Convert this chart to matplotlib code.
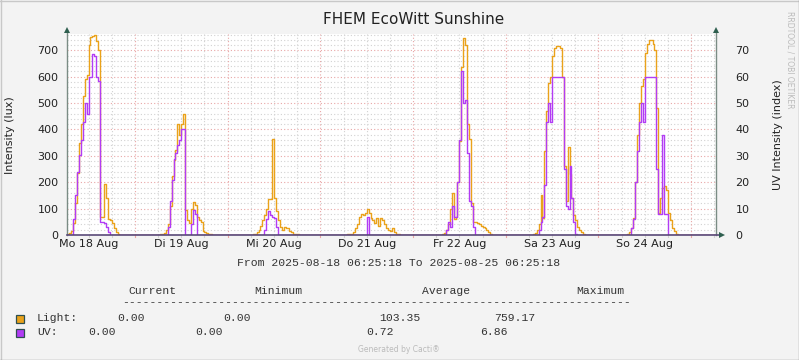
import matplotlib
matplotlib.use("Agg")
import matplotlib.pyplot as plt
import numpy as np
from matplotlib.lines import Line2D
from matplotlib.patches import Rectangle

# ---------------- data ----------------
title = "FHEM EcoWitt Sunshine"
day_labels = ["Mo 18 Aug", "Di 19 Aug", "Mi 20 Aug", "Do 21 Aug", "Fr 22 Aug", "Sa 23 Aug", "So 24 Aug"]
# sample hours of day (30 min resolution, daylight only; nights are 0)
hours = [6.5, 7.0, 7.5, 8.0, 8.5, 9.0, 9.5, 10.0, 10.5, 11.0, 11.5, 12.0, 12.5, 13.0, 13.5,
         14.0, 14.5, 15.0, 15.5, 16.0, 16.5, 17.0, 17.5, 18.0, 18.5, 19.0, 19.5, 20.0, 20.5]

light_d0 = [3, 8, 15, 45, 122, 236, 350, 420, 528, 590, 607, 720, 750, 755, 759.17,
            735, 700, 70, 70, 195, 140, 60, 55, 45, 25, 10, 3, 0, 0]
light_d1 = [2, 4, 8, 19, 40, 110, 222, 286, 324, 420, 380, 420, 458, 95, 57,
            45, 100, 127, 115, 70, 57, 50, 15, 10, 8, 5, 2, 0, 0]
light_d2 = [2, 3, 10, 20, 35, 55, 75, 100, 135, 138, 365, 140, 90, 55, 30,
            20, 30, 25, 28, 15, 10, 5, 3, 3, 0, 0, 0, 0, 0]
light_d3 = [0, 2, 3, 5, 10, 25, 40, 70, 80, 75, 85, 100, 85, 65, 55,
            45, 65, 35, 65, 55, 40, 25, 20, 15, 25, 10, 5, 2, 0]
light_d4 = [0, 0, 3, 8, 20, 40, 100, 160, 60, 70, 200, 356, 636, 745, 720,
            420, 363, 120, 50, 48, 45, 40, 35, 30, 25, 18, 10, 2, 0]
light_d5 = [0, 3, 8, 20, 40, 150, 65, 320, 470, 575, 600, 680, 710, 716, 716,
            710, 600, 260, 130, 335, 230, 140, 75, 55, 30, 18, 10, 3, 0]
light_d6 = [0, 0, 3, 10, 25, 65, 200, 380, 500, 566, 590, 690, 725, 740, 738,
            725, 700, 480, 85, 140, 180, 185, 170, 85, 55, 25, 15, 5, 0]

uv_d0 = [0, 0, 0, 0.6, 1.5, 2.4, 3.05, 3.6, 4.3, 5.0, 4.6, 6.0, 6.0, 6.86, 6.8,
         6.0, 5.85, 0.5, 0.5, 0.45, 0.3, 0.1, 0, 0, 0, 0, 0, 0, 0]
uv_d1 = [0, 0, 0, 0, 0.3, 1.3, 2.1, 2.9, 3.1, 3.4, 3.6, 4.0, 4.0, 0, 0,
         0, 0.4, 0.95, 0.8, 0, 0, 0, 0, 0, 0, 0, 0, 0, 0]
uv_d2 = [0, 0, 0, 0, 0, 0, 0.2, 0.6, 0.9, 0.75, 0.7, 0.65, 0.3, 0, 0,
         0, 0, 0, 0, 0, 0, 0, 0, 0, 0, 0, 0, 0, 0]
uv_d3 = [0, 0, 0, 0, 0, 0, 0, 0, 0, 0, 0, 0.7, 0, 0, 0,
         0, 0, 0, 0, 0, 0, 0, 0, 0, 0, 0, 0, 0, 0]
uv_d4 = [0, 0, 0, 0, 0.2, 0.5, 0.3, 1.1, 0.7, 0.7, 2.0, 3.6, 6.2, 5.0, 5.1,
         3.1, 1.3, 1.1, 0.3, 0, 0, 0, 0, 0, 0, 0, 0, 0, 0]
uv_d5 = [0, 0, 0, 0, 0.2, 0.5, 0.7, 1.9, 4.3, 5.0, 4.3, 6.0, 6.0, 6.0, 6.0,
         6.0, 6.0, 2.5, 1.1, 1.0, 2.6, 1.4, 0.5, 0.05, 0, 0, 0, 0, 0]
uv_d6 = [0, 0, 0, 0, 0.25, 0.6, 2.0, 3.2, 4.3, 5.0, 4.3, 6.0, 6.0, 6.0, 6.0,
         6.0, 6.0, 2.5, 0.8, 0.8, 3.8, 0.8, 0.8, 0, 0, 0, 0, 0, 0]

light_days = [light_d0, light_d1, light_d2, light_d3, light_d4, light_d5, light_d6]
uv_days = [uv_d0, uv_d1, uv_d2, uv_d3, uv_d4, uv_d5, uv_d6]

start_hour = 6 + 25 / 60 + 18 / 3600   # 2025-08-18 06:25:18
span_hours = 7 * 24

legend_stats = {
    "Light": ["0.00", "0.00", "103.35", "759.17"],
    "UV": ["0.00", "0.00", "0.72", "6.86"],
}

# ---------------- build series ----------------
t_list, l_list, u_list = [start_hour], [0.0], [0.0]
for d in range(7):
    for h, lv, uv in zip(hours, light_days[d], uv_days[d]):
        t_list.append(d * 24 + h)
        l_list.append(lv)
        u_list.append(uv)
    t_list.append(d * 24 + 21.0)
    l_list.append(0.0)
    u_list.append(0.0)
t_list.append(start_hour + span_hours)
l_list.append(0.0)
u_list.append(0.0)
t = np.array(t_list)
light = np.array(l_list)
uv_plot = np.array(u_list) * 100.0

# ---------------- figure ----------------
W, H = 799, 360
fig = plt.figure(figsize=(W / 100, H / 100), dpi=100, facecolor="#F3F3F3")

def fx(px):
    return px / W

def fy(py):
    return 1 - py / H

x0, x1, ytop, ybot = 67, 716, 34, 235
ax = fig.add_axes([fx(x0), fy(ybot), fx(x1) - fx(x0), fy(ytop) - fy(ybot)])
ax.set_facecolor("white")
ymax = 762
ax.set_xlim(start_hour, start_hour + span_hours)
ax.set_ylim(0, ymax)

for s in ax.spines.values():
    s.set_visible(False)

# grid
minor_col = "#D2D2D2"
major_col = "#E9A6A6"
for v in range(20, ymax, 20):
    if v % 100 == 0:
        continue
    ax.axhline(v, color=minor_col, lw=0.8, ls=(0, (1, 2)), zorder=1)
for v in range(100, ymax, 100):
    ax.axhline(v, color=major_col, lw=0.8, ls=(0, (1, 2)), zorder=1)
for hh in range(6, 24 * 8, 6):
    if start_hour < hh < start_hour + span_hours:
        if hh % 24 == 0:
            ax.axvline(hh, color=major_col, lw=0.8, ls=(0, (1, 2)), zorder=1)
        else:
            ax.axvline(hh, color=minor_col, lw=0.8, ls=(0, (1, 2)), zorder=1)

# ticks
ax.set_yticks(range(0, 800, 100))
ax.tick_params(axis="y", length=0, labelsize=8, pad=6, colors="#222222")
ax.set_xticks([d * 24 + 12 for d in range(7)])
ax.set_xticklabels(day_labels)
ax.tick_params(axis="x", length=0, labelsize=8, pad=3, colors="#222222")

# small x tick marks below axis
for hh in range(6, 24 * 8, 6):
    if start_hour < hh < start_hour + span_hours:
        c = major_col if hh % 24 == 0 else minor_col
        ax.plot([hh, hh], [0, -ymax * 0.012], color=c, lw=0.8, clip_on=False, zorder=1)

# data
light_col = "#EAA21A"
uv_col = "#B23CF5"
ax.step(t, light, where="post", color=light_col, lw=1.0, zorder=3)
ax.step(t, uv_plot, where="post", color=uv_col, lw=1.0, zorder=4)

# right axis
ax2 = ax.twinx()
ax2.set_ylim(0, ymax / 10)
ax2.set_yticks(range(0, 80, 10))
ax2.tick_params(axis="y", length=0, labelsize=8, pad=14, colors="#222222")
for s in ax2.spines.values():
    s.set_visible(False)

# axes lines with arrows
axis_col = "#7A8C84"
arrow_col = "#2F5F4F"
fig.add_artist(Line2D([fx(x0), fx(x0)], [fy(ybot), fy(30)], color=axis_col, lw=1.0))
fig.add_artist(Line2D([fx(x1), fx(x1)], [fy(ybot), fy(30)], color=axis_col, lw=1.0))
fig.add_artist(Line2D([fx(x0), fx(722)], [fy(ybot), fy(ybot)], color="#5A4A78", lw=1.2))
for (ax_, ay_, mk) in [(x0, 30, "^"), (x1, 30, "^"), (722, ybot, ">")]:
    fig.add_artist(Line2D([fx(ax_)], [fy(ay_)], marker=mk, markersize=5,
                          color=arrow_col, markeredgewidth=0))

# texts
fig.text(fx(414), fy(20), title, ha="center", va="center", fontsize=11, color="#222222")
fig.text(fx(10), fy(135), "Intensity (lux)", rotation=90, ha="center", va="center",
         fontsize=8, color="#222222")
fig.text(fx(778), fy(135), "UV Intensity (index)", rotation=90, ha="center", va="center",
         fontsize=8, color="#222222")
fig.text(fx(790), fy(60), "RRDTOOL / TOBI OETIKER", rotation=270, ha="center", va="center",
         fontsize=5.5, color="#BBBBBB")

mono = "Liberation Mono"
fs = 8.2
fig.text(fx(399), fy(263), "From 2025-08-18 06:25:18 To 2025-08-25 06:25:18",
         ha="center", va="center", fontsize=fs, family=mono, color="#333333")

hdr_x = [128, 254, 422, 576]
for x, s in zip(hdr_x, ["Current", "Minimum", "Average", "Maximum"]):
    fig.text(fx(x), fy(291), s, ha="left", va="center", fontsize=fs, family=mono, color="#333333")
fig.text(fx(122), fy(302), "-" * 74, ha="left", va="center", fontsize=fs, family=mono, color="#333333")

rows = [("Light", 318, light_col, [117, 223, 379, 494]),
        ("UV", 332, uv_col, [88, 195, 366, 480])]
for name, yy, col, xs in rows:
    fig.add_artist(Rectangle((fx(15.5), fy(yy + 4.5)), fx(8), 8 / H, facecolor=col,
                             edgecolor="#2F4F4F", lw=0.9))
    fig.text(fx(37), fy(yy), name + ":", ha="left", va="center", fontsize=fs, family=mono, color="#333333")
    for x, v in zip(xs, legend_stats[name]):
        fig.text(fx(x), fy(yy), v, ha="left", va="center", fontsize=fs, family=mono, color="#333333")

fig.text(fx(399), fy(349), "Generated by Cacti\u00ae", ha="center", va="center",
         fontsize=5.5, color="#BBBBBB")

# outer border
fig.add_artist(Line2D([0, 1], [fy(0.5), fy(0.5)], color="#C8C8C8", lw=1))
fig.add_artist(Line2D([fx(0.5), fx(0.5)], [0, 1], color="#C8C8C8", lw=1))
fig.add_artist(Line2D([0, 1], [fy(359.5), fy(359.5)], color="#999999", lw=1))
fig.add_artist(Line2D([fx(798.5), fx(798.5)], [0, 1], color="#999999", lw=1))

fig.savefig("out.png", dpi=100, facecolor=fig.get_facecolor())
